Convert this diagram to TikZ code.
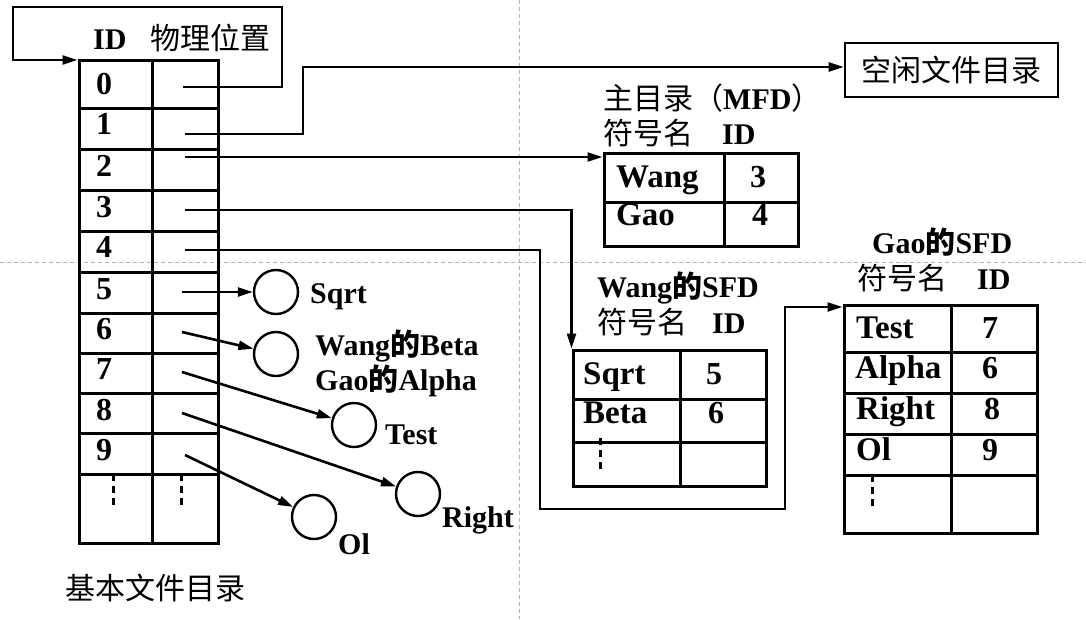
\documentclass[tikz,border=0pt]{standalone}
\usepackage{fontspec}
\setmainfont{Liberation Serif}
\newfontfamily\cjk{Noto Sans CJK SC}
\usetikzlibrary{arrows.meta}

\tikzset{
	tbl/.style={draw, line width=3pt, inner sep=0pt},
	ptr/.style={line width=2.6pt, -{Triangle[length=15pt,width=9pt]}},
	guide/.style={gray!60, line width=0.8pt, dash pattern=on 4pt off 3pt},
	blob/.style={draw, circle, line width=2.4pt, minimum size=44pt, inner sep=0pt},
	num/.style={inner sep=0pt, anchor=base, font=\fontsize{32}{36}\selectfont\bfseries},
	lbl/.style={inner sep=0pt, anchor=base west, font=\fontsize{33}{38}\selectfont\bfseries},
	sml/.style={inner sep=0pt, anchor=base west, font=\fontsize{30}{34}\selectfont\bfseries},
	hz/.style={inner sep=0pt, anchor=base west, font=\fontsize{30}{34}\selectfont\cjk},
	dots/.style={line width=3pt, dash pattern=on 7pt off 5pt}
}

\begin{document}
\begin{tikzpicture}[x=1pt,y=-1pt]
			\useasboundingbox (0,0) rectangle (1086,619);
			\draw[guide] (519,0) -- (519,619);
			\draw[guide] (0,262) -- (1086,262);

			\node[tbl, minimum width=139pt, minimum height=483pt] (bfd) at (148.5,301.5) {};
			\draw[tbl] (152,60) -- (152,543);
			\foreach \y in {108,149,190,231,272,313,353,393,433,474}
				\draw[tbl] (79,\y) -- (218,\y);
			\foreach \i/\y in {0/94,1/134,2/176,3/217,4/257,5/299,6/339,7/379,8/420,9/460}
				\node[num] (id\i) at (104,\y) {\i};
			\draw[dots] (113,474) -- (113,506);
			\draw[dots] (181,474) -- (181,506);
			\node[sml] (hid) at (93,49) {ID};
			\node[hz] (hpos) at (150,49) {物理位置};
			\node[hz] (bname) at (65,599) {基本文件目录};

			\node[draw, line width=2.6pt, minimum width=213pt, minimum height=54pt,
				font=\fontsize{30}{34}\selectfont\cjk] (free) at (951.5,70) {空闲文件目录};

			\node[tbl, minimum width=194pt, minimum height=93pt] (mfd) at (701,199.5) {};
			\draw[tbl] (724,153) -- (724,246);
			\draw[tbl] (604,202) -- (798,202);
			\node[sml] (mfdt) at (603,109) {{\cjk\mdseries 主目录（}MFD{\cjk\mdseries ）}};
			\node[hz] (mfdh) at (603,144) {符号名};
			\node[sml] (mfdi) at (722,144) {ID};
			\node[lbl] (wang) at (616,187) {Wang};
			\node[num] (wangid) at (758,187) {3};
			\node[lbl] (gao) at (616,225) {Gao};
			\node[num] (gaoid) at (760,225) {4};

			\node[tbl, minimum width=193pt, minimum height=136pt] (wsfd) at (669.5,418) {};
			\draw[tbl] (680,350) -- (680,486);
			\draw[tbl] (573,399) -- (766,399);
			\draw[tbl] (573,442) -- (766,442);
			\node[sml] (wsfdt) at (597,297) {Wang{\cjk 的}SFD};
			\node[hz] (wsfdh) at (597,333) {符号名};
			\node[sml] (wsfdi) at (712,333) {ID};
			\node[lbl] (wsqrt) at (583,384) {Sqrt};
			\node[num] (wsqrtid) at (714,384) {5};
			\node[lbl] (wbeta) at (583,423) {Beta};
			\node[num] (wbetaid) at (716,423) {6};
			\draw[dots] (600,438) -- (600,472);

			\node[tbl, minimum width=193pt, minimum height=228pt] (gsfd) at (940.5,419) {};
			\draw[tbl] (951,305) -- (951,533);
			\foreach \y in {352,393,434,475}
				\draw[tbl] (844,\y) -- (1037,\y);
			\node[sml] (gsfdt) at (872,253) {Gao{\cjk 的}SFD};
			\node[hz] (gsfdh) at (857,289) {符号名};
			\node[sml] (gsfdi) at (977,289) {ID};
			\node[lbl] (gtest) at (856,338) {Test};
			\node[num] (gtestid) at (990,338) {7};
			\node[lbl] (galpha) at (855,378) {Alpha};
			\node[num] (galphaid) at (990,378) {6};
			\node[lbl] (gright) at (856,419) {Right};
			\node[num] (grightid) at (992,419) {8};
			\node[lbl] (gol) at (856,460) {Ol};
			\node[num] (golid) at (990,460) {9};
			\draw[dots] (872,475) -- (872,507);

			\node[blob] (sqrt) at (276,292) {};
			\node[blob] (beta) at (276,354) {};
			\node[blob] (test) at (354,425) {};
			\node[blob] (right) at (418,494) {};
			\node[blob] (ol) at (314,517) {};
			\node[sml] (sqrtl) at (310,303) {Sqrt};
			\node[sml] (betal) at (315,355) {Wang{\cjk 的}Beta};
			\node[sml] (alphal) at (315,390) {Gao{\cjk 的}Alpha};
			\node[sml] (testl) at (385,444) {Test};
			\node[sml] (rightl) at (442,527) {Right};
			\node[sml] (oll) at (338,554) {Ol};

			\foreach \i/\x/\y in {0/183/87,1/185/134,2/185/157,3/185/210,4/185/250,
				5/182/292,6/182/332,7/182/372,8/182/413,9/185/455}
				\coordinate (p\i) at (\x,\y);
			\coordinate (c0) at (13,60);
			\coordinate (c1) at (303,67);
			\coordinate (c4) at (785,307);

			\draw[ptr] (p0) -- (282,87) -- (282,7) -- (13,7) -- (c0) -- (bfd.west |- c0);
			\draw[ptr] (p1) -| (c1) -- (free.west |- c1);
			\draw[ptr] (p2) -- (mfd.west |- p2);
			\draw[ptr] (p3) -| (wsfd.north west);
			\draw[ptr] (p4) -- (540,250) -- (540,509) -- (785,509) -- (c4) -- (gsfd.west |- c4);
			\draw[ptr] (p5) -- (sqrt);
			\draw[ptr] (p6) -- (beta);
			\draw[ptr] (p7) -- (test);
			\draw[ptr] (p8) -- (right);
			\draw[ptr] (p9) -- (ol);
\end{tikzpicture}
\end{document}
